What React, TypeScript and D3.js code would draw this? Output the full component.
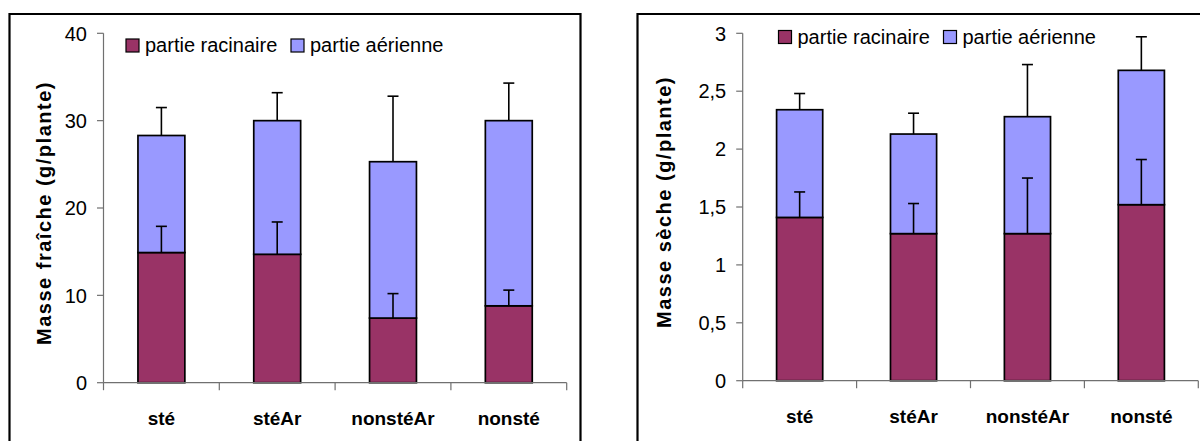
import React from "react";
import * as d3 from "d3";

const categories = ["sté", "stéAr", "nonstéAr", "nonsté"];
const seriesNames = ["partie racinaire", "partie aérienne"];
const seriesColors = ["#993366", "#9999FF"];

// Masse fraîche (g/plante)
const freshRoot = [14.9, 14.7, 7.4, 8.8];
const freshAerial = [13.4, 15.3, 17.9, 21.2];
const freshRootErr = [3.0, 3.7, 2.8, 1.8];
const freshAerialErr = [3.2, 3.2, 7.5, 4.3];
const freshTicks = [0, 10, 20, 30, 40];

// Masse sèche (g/plante)
const dryRoot = [1.41, 1.27, 1.27, 1.52];
const dryAerial = [0.93, 0.86, 1.01, 1.16];
const dryRootErr = [0.22, 0.26, 0.48, 0.39];
const dryAerialErr = [0.14, 0.18, 0.45, 0.29];
const dryTicks = [0, 0.5, 1, 1.5, 2, 2.5, 3];

type PanelProps = {
  border: [number, number, number];
  x0: number;
  x1: number;
  yTop: number;
  yBottom: number;
  yMax: number;
  ticks: number[];
  root: number[];
  aerial: number[];
  rootErr: number[];
  aerialErr: number[];
  title: string;
  titleX: number;
  titleY: number;
  legendX: number;
  legendY: number;
  labelY: number;
};

const FONT = "'Liberation Sans', Arial, sans-serif";
const fmt = (v: number) => String(v).replace(".", ",");

function Panel(p: PanelProps) {
  const x = d3.scaleBand<string>().domain(categories).range([p.x0, p.x1]).padding(0);
  const y = d3.scaleLinear().domain([0, p.yMax]).range([p.yBottom, p.yTop]);
  const bw = x.bandwidth();
  const barW = bw * 0.405;
  const stacked = d3
    .stack<number>()
    .keys(["root", "aerial"])
    .value((i, key) => (key === "root" ? p.root[i] : p.aerial[i]))(d3.range(categories.length));
  const errs = [p.rootErr, p.aerialErr];
  const cap = 5.5;
  const [bl, bt, br] = p.border;
  const bottomEdge = 460;
  return (
    <g>
      <path
        d={`M${bl},${bottomEdge}V${bt}H${br}V${bottomEdge}`}
        fill="none"
        stroke="#000"
        strokeWidth={2.2}
      />
      {/* y axis */}
      <line x1={p.x0} x2={p.x0} y1={y(p.yMax)} y2={y(0)} stroke="#707070" strokeWidth={1.2} />
      {p.ticks.map((t) => (
        <g key={t}>
          <line x1={p.x0 - 6.5} x2={p.x0} y1={y(t)} y2={y(t)} stroke="#707070" strokeWidth={1.2} />
          <text
            x={p.x0 - 16.5}
            y={y(t)}
            dy="0.36em"
            textAnchor="end"
            fontFamily={FONT}
            fontSize={20}
            fill="#000"
          >
            {fmt(t)}
          </text>
        </g>
      ))}
      {/* bars */}
      {stacked.map((layer, si) =>
        layer.map((d, i) => {
          const cx = (x(categories[i]) as number) + bw / 2;
          return (
            <rect
              key={`${si}-${i}`}
              x={cx - barW / 2}
              width={barW}
              y={y(d[1])}
              height={y(d[0]) - y(d[1])}
              fill={seriesColors[si]}
              stroke="#000"
              strokeWidth={1.7}
            />
          );
        })
      )}
      {/* error bars */}
      {stacked.map((layer, si) =>
        layer.map((d, i) => {
          const cx = (x(categories[i]) as number) + bw / 2;
          const top = y(d[1] + errs[si][i]);
          return (
            <g key={`e${si}-${i}`} stroke="#000" strokeWidth={1.6}>
              <line x1={cx} x2={cx} y1={y(d[1])} y2={top} />
              <line x1={cx - cap} x2={cx + cap} y1={top} y2={top} />
            </g>
          );
        })
      )}
      {/* x axis */}
      <line x1={p.x0} x2={p.x1} y1={y(0)} y2={y(0)} stroke="#707070" strokeWidth={1.2} />
      {[...categories.map((c) => x(c) as number), p.x1].map((tx, i) => (
        <line key={i} x1={tx} x2={tx} y1={y(0)} y2={y(0) + 7.5} stroke="#707070" strokeWidth={1.2} />
      ))}
      {categories.map((c) => (
        <text
          key={c}
          x={(x(c) as number) + bw / 2}
          y={p.labelY}
          textAnchor="middle"
          fontFamily={FONT}
          fontWeight="bold"
          fontSize={19}
          fill="#000"
        >
          {c}
        </text>
      ))}
      {/* title */}
      <text
        transform={`translate(${p.titleX},${p.titleY}) rotate(-90)`}
        textAnchor="middle"
        dy="0.36em"
        fontFamily={FONT}
        fontWeight="bold"
        fontSize={20}
        letterSpacing={1.5}
        fill="#000"
      >
        {p.title}
      </text>
      {/* legend */}
      {seriesNames.map((s, i) => {
        const lx = p.legendX + i * 165;
        return (
          <g key={s}>
            <rect
              x={lx}
              y={p.legendY - 13}
              width={13}
              height={13}
              fill={seriesColors[i]}
              stroke="#000"
              strokeWidth={1.2}
            />
            <text x={lx + 19} y={p.legendY} fontFamily={FONT} fontSize={20} fill="#000">
              {s}
            </text>
          </g>
        );
      })}
    </g>
  );
}

export default function App() {
  return (
    <svg
      width={1200}
      height={441}
      style={{ position: "absolute", left: 0, top: 0, background: "#fff" }}
    >
      <rect width={1200} height={441} fill="#fff" />
      <Panel
        border={[9.5, 14, 580.5]}
        x0={103.5}
        x1={566.7}
        yTop={33.3}
        yBottom={382.7}
        yMax={40}
        ticks={freshTicks}
        root={freshRoot}
        aerial={freshAerial}
        rootErr={freshRootErr}
        aerialErr={freshAerialErr}
        title="Masse fraîche (g/plante)"
        titleX={44}
        titleY={213}
        legendX={126}
        legendY={52}
        labelY={425}
      />
      <Panel
        border={[637.5, 14, 1230]}
        x0={742.7}
        x1={1198.3}
        yTop={33.3}
        yBottom={380.7}
        yMax={3}
        ticks={dryTicks}
        root={dryRoot}
        aerial={dryAerial}
        rootErr={dryRootErr}
        aerialErr={dryAerialErr}
        title="Masse sèche (g/plante)"
        titleX={664}
        titleY={202}
        legendX={778.5}
        legendY={43.5}
        labelY={422.7}
      />
    </svg>
  );
}
